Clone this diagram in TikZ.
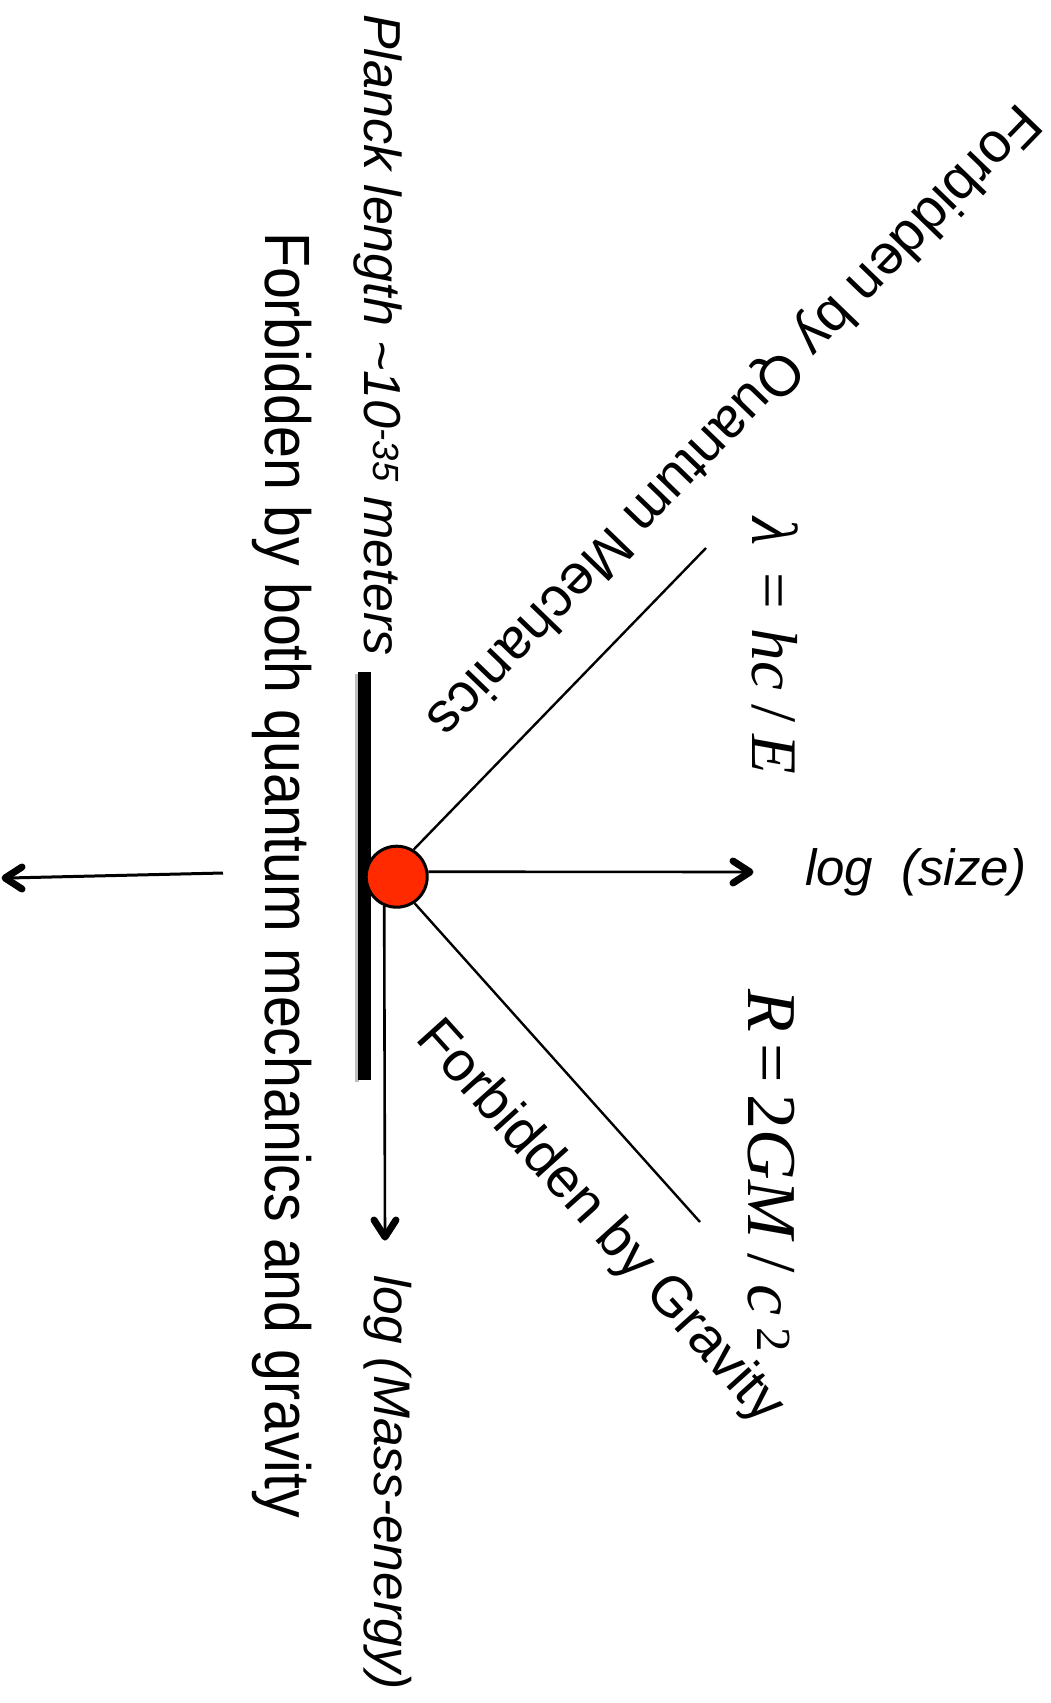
\documentclass[tikz,border=0pt]{standalone}
\usepackage{fontspec}
\setmainfont{Liberation Sans}
\newfontfamily\serifTNR{Liberation Serif}
\definecolor{redc}{RGB}{255,42,0}
\begin{document}
\begin{tikzpicture}[x=1pt,y=-1pt,
  ln/.style={line width=2.4pt},
  shaft/.style={line width=2.6pt},
  barb/.style={line width=7pt, line cap=round, line join=round},
  lbl/.style={inner sep=0pt, outer sep=0pt},
]
\useasboundingbox (0,0) rectangle (1051,1703);
% thick bar with faint shadow
\fill[black!25] (355,674) rectangle (359,1082);
\fill[black] (358,672) rectangle (371,1080);
% coordinates
\coordinate (sz) at (750,872);
\coordinate (me) at (385,1237);
\coordinate (ql) at (706,548);
\coordinate (gl) at (700,1222);
\coordinate (la) at (223,873);
\coordinate (lb) at (5,878);
% circle and connectors
\node[circle, draw, line width=3pt, fill=redc, minimum size=61pt, inner sep=0pt] (c) at (396.7,876.7) {};
\draw[shaft] (c.9) -- ([xshift=-3pt]sz);
\draw[barb] ([shift={(-17,-11)}]sz) -- (sz) -- ([shift={(-17,11)}]sz);
\draw[shaft] (c.247) -- ([yshift=-3pt]me);
\draw[barb] ([shift={(-11,-17)}]me) -- (me) -- ([shift={(11,-17)}]me);
\draw[ln] (c.58) -- (ql);
\draw[ln] (c.-56) -- (gl);
\draw[shaft, line width=3pt] (la) -- ([xshift=3pt]lb);
\draw[barb] ([shift={(17,-11)}]lb) -- (lb) -- ([shift={(17,11)}]lb);
% texts
\node[lbl, anchor=base west, rotate=-90, font=\fontsize{52}{60}\selectfont\itshape] (planck) at (364,14) {Planck length \textasciitilde10\textsuperscript{-35} meters};
\node[lbl, anchor=base west, rotate=-90, font=\fontsize{64}{70}\selectfont] (both) at (265,232) {\scalebox{0.895}[1]{Forbidden by both quantum mechanics and gravity}};
\node[lbl, anchor=base west, rotate=-90, font=\fontsize{51.5}{60}\selectfont\itshape] (mass) at (374,1275) {log (Mass-energy)};
\node[lbl, anchor=base west, font=\fontsize{51}{60}\selectfont\itshape] (size) at (805,885) {log\ \ (size)};
\node[lbl, rotate=226, font=\fontsize{56}{64}\selectfont] (qm) at (732,419) {Forbidden by Quantum Mechanics};
\node[lbl, rotate=-48, font=\fontsize{56}{64}\selectfont] (grav) at (599,1223) {Forbidden by Gravity};
\node[lbl, anchor=base west, rotate=-90, font=\serifTNR\fontsize{65}{72}\selectfont] (lam) at (752,517) {\textit{λ}\hspace{0.42em}=\hspace{0.3em}\textit{hc}\hspace{0.22em}/\hspace{0.18em}\textit{E}};
\node[lbl, anchor=base west, rotate=-90, font=\serifTNR\fontsize{70}{80}\selectfont] (rr) at (748,989) {\textit{R}\,=\,2\textit{GM}\,/\,\textit{c}\,\textsuperscript{2}};
\end{tikzpicture}
\end{document}
